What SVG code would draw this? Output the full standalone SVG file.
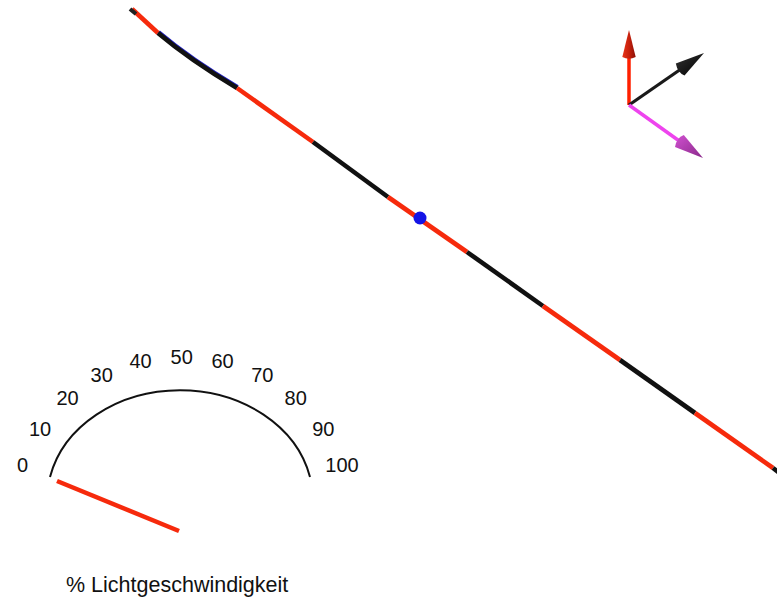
<svg xmlns="http://www.w3.org/2000/svg" width="777" height="600" viewBox="0 0 777 600">
<style>
.txt{font-family:"Liberation Sans",Arial,sans-serif;fill:#111}
.lbl{font-size:20px;text-anchor:middle}
.seg{fill:none;stroke-width:4.6;stroke-linecap:butt}
.r{stroke:#f62a0c}
.k{stroke:#111}
</style>
<defs>
<linearGradient id="gRed" x1="0" y1="0" x2="1" y2="0">
<stop offset="0" stop-color="#e83418"/><stop offset="0.5" stop-color="#c8200c"/><stop offset="1" stop-color="#8a1008"/>
</linearGradient>
<linearGradient id="gBlk" x1="0" y1="0" x2="1" y2="1">
<stop offset="0" stop-color="#333"/><stop offset="1" stop-color="#000"/>
</linearGradient>
<linearGradient id="gMag" x1="0" y1="0" x2="1" y2="1">
<stop offset="0" stop-color="#d050d0"/><stop offset="1" stop-color="#8a2a8a"/>
</linearGradient>
</defs>
<rect width="777" height="600" fill="#fff"/>
<g id="trajectory">
<path d="M158,33 Q190,60 237,88" fill="none" stroke="#2020c0" stroke-width="4" transform="translate(0.6,-1)"/>
<path class="seg r" d="M132,9 L158,33"/>
<path d="M130,9 L136,14" stroke="#222" stroke-width="4"/>
<path class="seg k" d="M158,33 Q190,60 237,88"/>
<path class="seg r" d="M237,88 L313,142"/>
<path class="seg k" d="M313,142 L388,197"/>
<path class="seg r" d="M388,197 L467,252"/>
<path class="seg k" d="M467,252 L543,306"/>
<path class="seg r" d="M543,306 L620,360"/>
<path class="seg k" d="M620,360 L695,413"/>
<path class="seg r" d="M695,413 L773,468"/>
<path class="seg k" d="M773,468 L781,474"/>
</g>
<g id="marker-dot">
<circle cx="420" cy="218" r="6.5" fill="#1414e6"/>
</g>
<g id="axes">
<line x1="629" y1="105" x2="629" y2="56" stroke="#ff2000" stroke-width="3.5"/>
<path d="M629,30 L622.3,57 Q629,60.5 635.7,57 Z" fill="url(#gRed)"/>
<line x1="629" y1="105" x2="681" y2="69" stroke="#1a1a1a" stroke-width="3.2"/>
<path d="M704,53 L675.8,63.5 Q677.5,72.5 684.5,75.6 Z" fill="url(#gBlk)"/>
<line x1="629" y1="105" x2="680" y2="141.5" stroke="#ee44ee" stroke-width="3.5"/>
<path d="M703,158 L683.8,135.1 Q676.5,137.8 675,147.1 Z" fill="url(#gMag)"/>
</g>
<g id="gauge">
<path d="M50,477 A133,110 0 0 1 310,477" fill="none" stroke="#111" stroke-width="2"/>
<line x1="57" y1="481" x2="179" y2="531" stroke="#f62a0c" stroke-width="4.5"/>
<g class="txt lbl">
<text x="22.5" y="472">0</text>
<text x="40" y="436">10</text>
<text x="67.5" y="405">20</text>
<text x="101.7" y="382">30</text>
<text x="140.5" y="368">40</text>
<text x="181.7" y="364">50</text>
<text x="222.5" y="368">60</text>
<text x="262.3" y="382">70</text>
<text x="295.7" y="405">80</text>
<text x="323.3" y="436">90</text>
<text x="342" y="472">100</text>
</g>
<text class="txt" x="66" y="592" font-size="21.5">% Lichtgeschwindigkeit</text>
</g>
</svg>
